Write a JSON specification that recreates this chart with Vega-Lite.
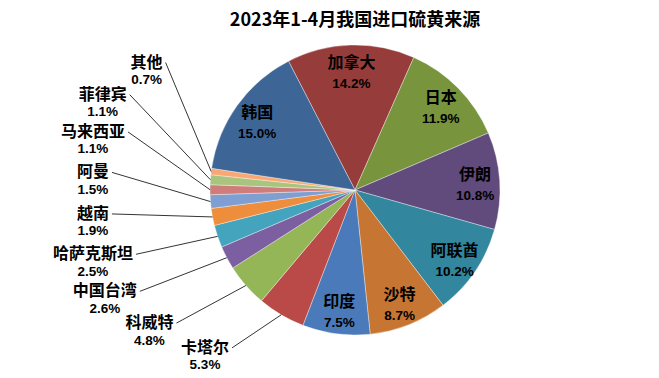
{
  "$schema": "https://vega.github.io/schema/vega-lite/v6.json",
  "width": 608,
  "height": 376,
  "autosize": {"type": "none"},
  "padding": {"left": 51, "top": 2, "right": 0, "bottom": 0},
  "background": "white",
  "config": {"view": {"stroke": null}},
  "title": {
    "text": "2023年1-4月我国进口硫黄来源",
    "frame": "group",
    "anchor": "middle",
    "offset": -28,
    "font": "Noto Sans CJK SC",
    "fontSize": 18,
    "fontWeight": "bold",
    "color": "#000000"
  },
  "data": {
    "values": [
      {"name": "加拿大", "pct": 14.2, "ord": 1},
      {"name": "日本", "pct": 11.9, "ord": 2},
      {"name": "伊朗", "pct": 10.8, "ord": 3},
      {"name": "阿联酋", "pct": 10.2, "ord": 4},
      {"name": "沙特", "pct": 8.7, "ord": 5},
      {"name": "印度", "pct": 7.5, "ord": 6},
      {"name": "卡塔尔", "pct": 5.3, "ord": 7},
      {"name": "科威特", "pct": 4.8, "ord": 8},
      {"name": "中国台湾", "pct": 2.6, "ord": 9},
      {"name": "哈萨克斯坦", "pct": 2.5, "ord": 10},
      {"name": "越南", "pct": 1.9, "ord": 11},
      {"name": "阿曼", "pct": 1.5, "ord": 12},
      {"name": "马来西亚", "pct": 1.1, "ord": 13},
      {"name": "菲律宾", "pct": 1.1, "ord": 14},
      {"name": "其他", "pct": 0.7, "ord": 15},
      {"name": "韩国", "pct": 15.0, "ord": 16}
    ]
  },
  "transform": [
    {"joinaggregate": [{"op": "sum", "field": "pct", "as": "total"}]},
    {"window": [{"op": "sum", "field": "pct", "as": "cum"}], "sort": [{"field": "ord"}], "frame": [null, 0]},
    {"calculate": "-0.4765 + 2*PI*(datum.cum - datum.pct/2)/datum.total", "as": "ang"},
    {"calculate": "format(datum.pct, '.1f') + '%'", "as": "pctText"},
    {"calculate": "datum.pct < 7", "as": "small"},
    {"window": [{"op": "row_number", "as": "k"}], "groupby": ["small"], "sort": [{"field": "ord"}]},
    {"calculate": "(210 + (datum.k - 1) * 13.25) * PI / 180", "as": "la"},
    {"calculate": "0.83 * sin(datum.ang)", "as": "ix"},
    {"calculate": "0.83 * cos(datum.ang)", "as": "iy"},
    {"calculate": "-0.069 + 1.2414 * cos(datum.la)", "as": "ly"},
    {"calculate": "max(-1.807, 2.069 * sin(datum.la))", "as": "lx"},
    {"calculate": "sin(datum.ang)", "as": "ex"},
    {"calculate": "cos(datum.ang)", "as": "ey"},
    {"calculate": "datum.lx + (length(datum.name) * 8 + 3) / 145", "as": "tx"},
    {"calculate": "datum.ly + 8 / 145", "as": "ty"}
  ],
  "layer": [
    {
      "mark": {"type": "arc", "radius": 145, "stroke": "#ffffff", "strokeWidth": 0.6, "strokeOpacity": 0.6},
      "encoding": {
        "theta": {"field": "pct", "type": "quantitative", "stack": true, "scale": {"range": [-0.4765, 5.8067]}},
        "color": {
          "field": "name",
          "type": "nominal",
          "legend": null,
          "scale": {
            "domain": ["加拿大", "日本", "伊朗", "阿联酋", "沙特", "印度", "卡塔尔", "科威特", "中国台湾", "哈萨克斯坦", "越南", "阿曼", "马来西亚", "菲律宾", "其他", "韩国"],
            "range": ["#963D3B", "#78943D", "#614A7C", "#32869D", "#C77532", "#4A7AB9", "#B94A48", "#94B657", "#7C5FA0", "#44A4BE", "#EE8E3C", "#7F9FD3", "#CF7D7B", "#A9C47F", "#F9A874", "#3D6696"]
          }
        },
        "order": {"field": "ord", "type": "quantitative"}
      }
    },
    {
      "transform": [{"filter": "datum.small"}],
      "mark": {"type": "rule", "color": "#000000", "strokeWidth": 0.8},
      "encoding": {
        "x": {"field": "ex", "type": "quantitative", "axis": null, "scale": {"domain": [-2.0966, 2.0966], "nice": false, "zero": false}},
        "y": {"field": "ey", "type": "quantitative", "axis": null, "scale": {"domain": [-1.2966, 1.2966], "nice": false, "zero": false}},
        "x2": {"field": "tx"},
        "y2": {"field": "ty"}
      }
    },
    {
      "transform": [{"filter": "!datum.small"}],
      "mark": {"type": "text", "font": "Noto Sans CJK SC", "fontSize": 16, "fontWeight": "bold", "color": "#000000", "dy": -7, "baseline": "middle", "align": "center"},
      "encoding": {
        "x": {"field": "ix", "type": "quantitative", "axis": null, "scale": {"domain": [-2.0966, 2.0966], "nice": false, "zero": false}},
        "y": {"field": "iy", "type": "quantitative", "axis": null, "scale": {"domain": [-1.2966, 1.2966], "nice": false, "zero": false}},
        "text": {"field": "name"}
      }
    },
    {
      "transform": [{"filter": "!datum.small"}],
      "mark": {"type": "text", "font": "Liberation Sans", "fontSize": 13.5, "fontWeight": "bold", "color": "#000000", "dy": 14, "baseline": "middle", "align": "center"},
      "encoding": {
        "x": {"field": "ix", "type": "quantitative", "axis": null, "scale": {"domain": [-2.0966, 2.0966], "nice": false, "zero": false}},
        "y": {"field": "iy", "type": "quantitative", "axis": null, "scale": {"domain": [-1.2966, 1.2966], "nice": false, "zero": false}},
        "text": {"field": "pctText"}
      }
    },
    {
      "transform": [{"filter": "datum.small"}],
      "mark": {"type": "text", "font": "Noto Sans CJK SC", "fontSize": 16, "fontWeight": "bold", "color": "#000000", "dy": -8, "baseline": "middle", "align": "center"},
      "encoding": {
        "x": {"field": "lx", "type": "quantitative", "axis": null, "scale": {"domain": [-2.0966, 2.0966], "nice": false, "zero": false}},
        "y": {"field": "ly", "type": "quantitative", "axis": null, "scale": {"domain": [-1.2966, 1.2966], "nice": false, "zero": false}},
        "text": {"field": "name"}
      }
    },
    {
      "transform": [{"filter": "datum.small"}],
      "mark": {"type": "text", "font": "Liberation Sans", "fontSize": 13.5, "fontWeight": "bold", "color": "#000000", "dy": 9.5, "baseline": "middle", "align": "center"},
      "encoding": {
        "x": {"field": "lx", "type": "quantitative", "axis": null, "scale": {"domain": [-2.0966, 2.0966], "nice": false, "zero": false}},
        "y": {"field": "ly", "type": "quantitative", "axis": null, "scale": {"domain": [-1.2966, 1.2966], "nice": false, "zero": false}},
        "text": {"field": "pctText"}
      }
    }
  ]
}
